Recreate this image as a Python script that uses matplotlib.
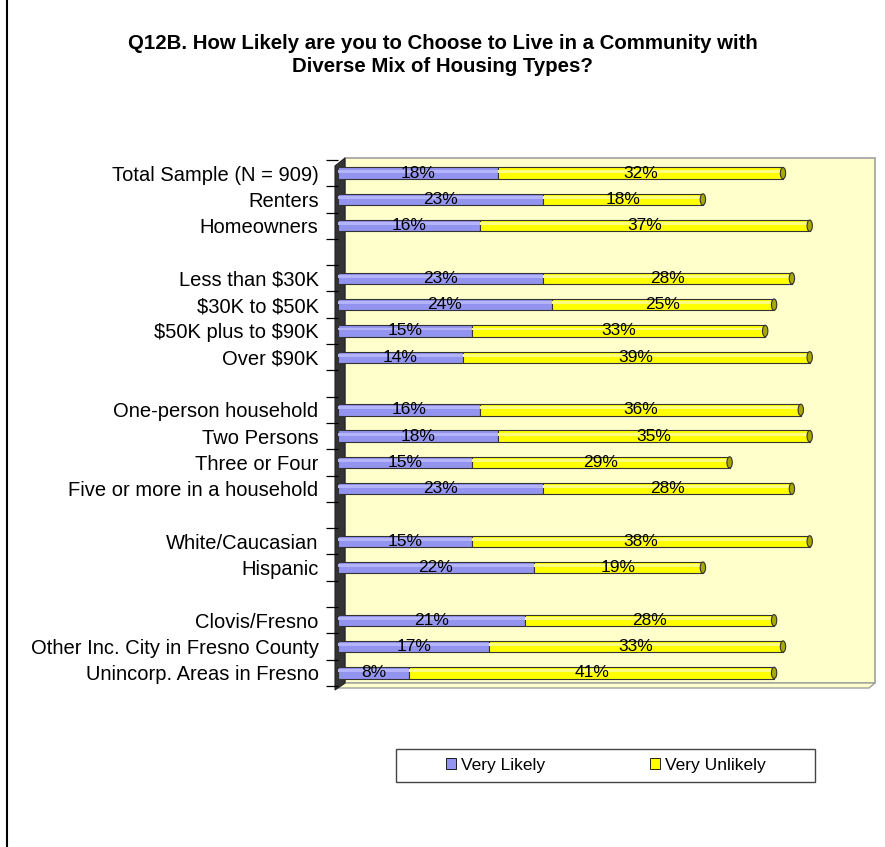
import matplotlib
matplotlib.use("Agg")
import matplotlib.pyplot as plt
import matplotlib.patches as mpatches
from matplotlib.patches import Polygon, Rectangle, Ellipse
from matplotlib.lines import Line2D
import numpy as np

plt.rcParams["font.family"] = ["Liberation Sans", "DejaVu Sans"]
plt.rcParams["text.parse_math"] = False

# ── data ──────────────────────────────────────────────────────────────────────
categories = ["Total Sample (N = 909)", "Renters", "Homeowners", "",
              "Less than $30K", "$30K to $50K", "$50K plus to $90K", "Over $90K", "",
              "One-person household", "Two Persons", "Three or Four",
              "Five or more in a household", "",
              "White/Caucasian", "Hispanic", "",
              "Clovis/Fresno", "Other Inc. City in Fresno County", "Unincorp. Areas in Fresno"]
very_likely   = [18, 23, 16, None, 23, 24, 15, 14, None, 16, 18, 15, 23, None, 15, 22, None, 21, 17, 8]
very_unlikely = [32, 18, 37, None, 28, 25, 33, 39, None, 36, 35, 29, 28, None, 38, 19, None, 28, 33, 41]
series_names  = ["Very Likely", "Very Unlikely"]
title = "Q12B. How Likely are you to Choose to Live in a Community with\nDiverse Mix of Housing Types?"

BLUE   = "#9393F0"
YELLOW = "#FFFF00"
BACK   = "#FFFFCC"

W, H = 885, 847
fig = plt.figure(figsize=(W / 100, H / 100), dpi=100)

def fx(px):
    return px / W

def fy(py):
    return 1 - py / H

# 3-D walls (figure coords)
fig.patches.append(Polygon([(fx(345), fy(158)), (fx(875), fy(158)), (fx(875), fy(683)),
                            (fx(345), fy(683))], closed=True, transform=fig.transFigure,
                           facecolor=BACK, edgecolor="#A0A0A0", lw=1.2, zorder=0))
fig.patches.append(Polygon([(fx(337), fy(688)), (fx(345), fy(683)), (fx(875), fy(683)),
                            (fx(869), fy(688))], closed=True, transform=fig.transFigure,
                           facecolor=BACK, edgecolor="#A0A0A0", lw=1.0, zorder=0))
fig.patches.append(Polygon([(fx(335), fy(166)), (fx(345), fy(158)), (fx(345), fy(683)),
                            (fx(335), fy(690))], closed=True, transform=fig.transFigure,
                           facecolor="#333333", edgecolor="#222222", lw=0.8, zorder=0))

ax = fig.add_axes([fx(338), fy(686), fx(872) - fx(338), fy(160) - fy(686)])
ax.set_zorder(2)
ax.set_facecolor("none")
for s in ax.spines.values():
    s.set_visible(False)

y = np.arange(len(categories))
lk = np.array([v if v is not None else 0 for v in very_likely], dtype=float)
un = np.array([v if v is not None else 0 for v in very_unlikely], dtype=float)
mask = np.array([v is not None for v in very_likely])

bh = 0.43
ax.barh(y[mask], lk[mask], height=bh, color=BLUE, edgecolor="#333333", lw=0.8, zorder=3)
ax.barh(y[mask], un[mask], left=lk[mask], height=bh, color=YELLOW, edgecolor="#333333",
        lw=0.8, zorder=3)
# lighter top highlight to hint at the cylinder shading
ax.barh(y[mask] - bh * 0.18, lk[mask], height=bh * 0.25, color="#B4B4FA", lw=0, zorder=3.5)
ax.barh(y[mask] - bh * 0.18, un[mask], left=lk[mask], height=bh * 0.25, color="#FFFF80",
        lw=0, zorder=3.5)

# cylinder end caps and value labels
for yi, a, b in zip(y[mask], lk[mask], un[mask]):
    ax.add_patch(Ellipse((a + b, yi), 0.6, bh, facecolor="#A8A800", edgecolor="#333333",
                         lw=0.8, zorder=4))
    ax.text(a / 2, yi, f"{a:.0f}%", ha="center", va="center", fontsize=12.5, zorder=5)
    ax.text(a + b / 2, yi, f"{b:.0f}%", ha="center", va="center", fontsize=12.5, zorder=5)

ax.set_xlim(0, 60)
ax.set_ylim(len(categories) - 0.5, -0.5)
ax.set_xticks([])
ax.set_yticks(y)
ax.set_yticklabels(categories, fontsize=14.5)
ax.tick_params(axis="y", which="major", length=0, pad=14)
ax.set_yticks(np.arange(-0.5, len(categories)), minor=True)
ax.tick_params(axis="y", which="minor", length=9, width=0.9, color="black")

fig.text(0.5, fy(55), title, ha="center", va="center", fontsize=14.7,
         fontweight="bold", linespacing=1.3)

# legend
fig.patches.append(Rectangle((fx(396), fy(782)), fx(815) - fx(396), fy(749) - fy(782),
                             transform=fig.transFigure, facecolor="white",
                             edgecolor="#444444", lw=1.0, zorder=1))
handles = [mpatches.Patch(facecolor=BLUE, edgecolor="black", lw=0.6, label=series_names[0]),
           mpatches.Patch(facecolor=YELLOW, edgecolor="black", lw=0.6, label=series_names[1])]
leg = fig.legend(handles=handles, loc="center", bbox_to_anchor=(fx(606), fy(765)), ncol=2,
                 frameon=False, fontsize=12.5, handlelength=0.6, handleheight=0.6,
                 handletextpad=0.3, columnspacing=6.0)
leg.set_zorder(3)

# chart area border (only the left edge falls inside the picture)
fig.add_artist(Line2D([fx(7), fx(7)], [0, 1], transform=fig.transFigure,
                      color="black", lw=1.5))

fig.savefig("out.png", dpi=100)
